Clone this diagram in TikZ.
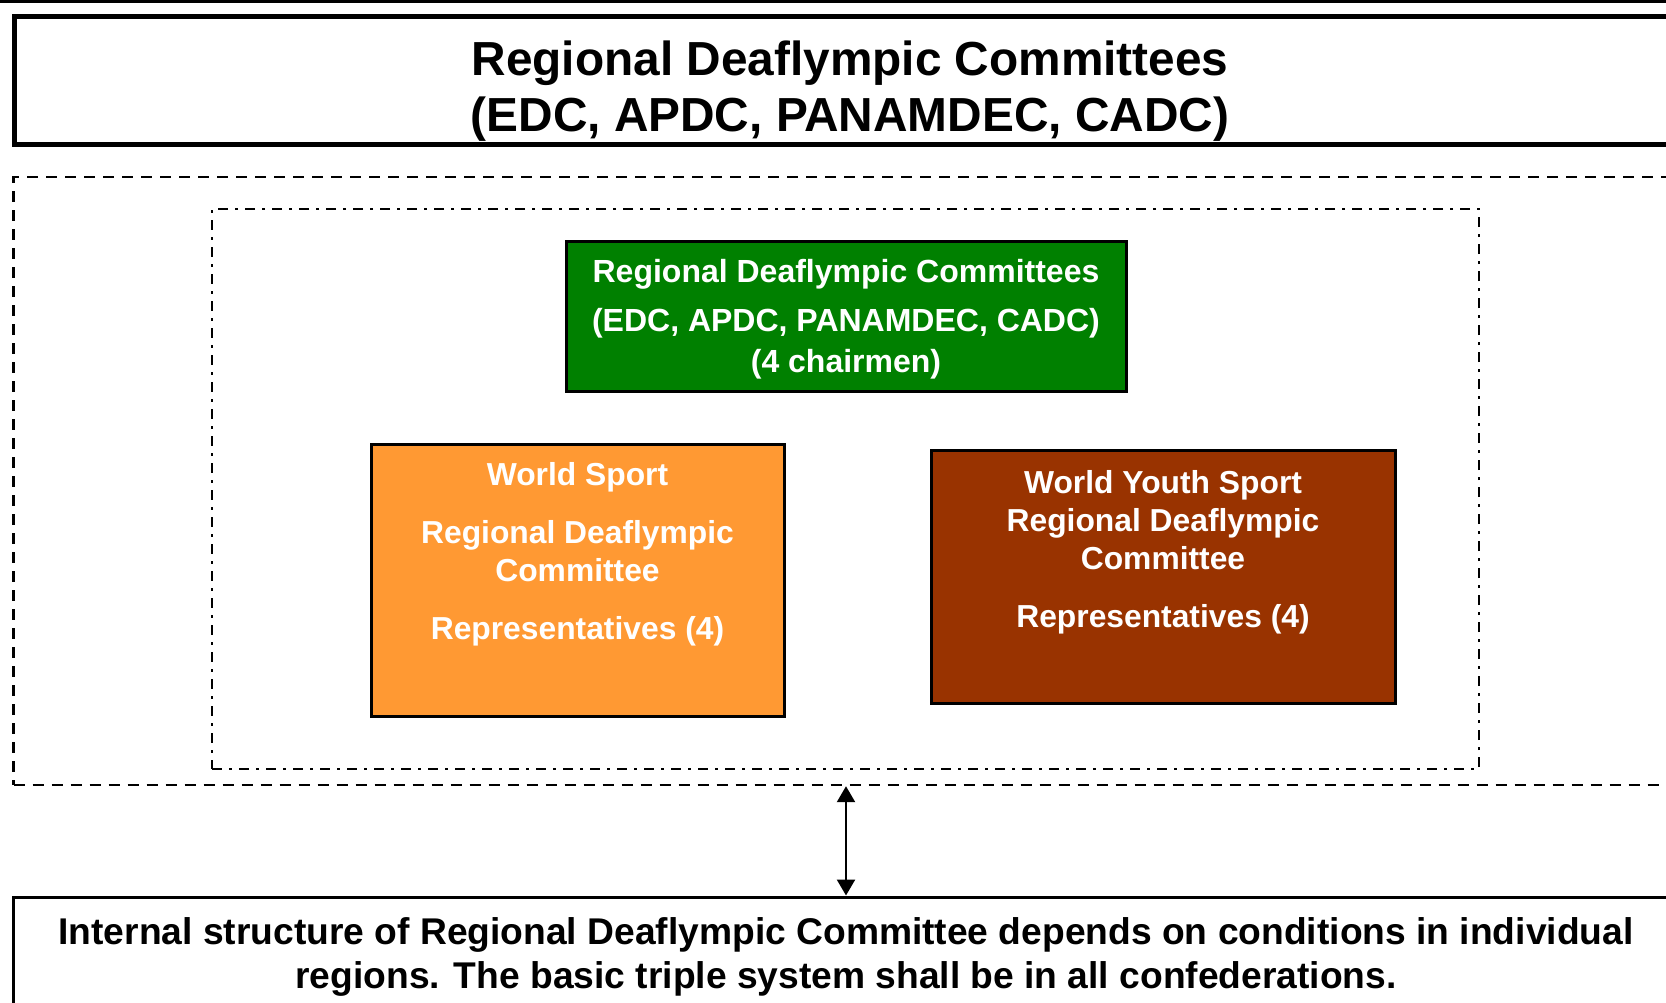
\documentclass[tikz,border=0pt]{standalone}
\usepackage{fontspec}
\setmainfont{Liberation Sans}
\usetikzlibrary{positioning,arrows.meta}
\usepackage{xcolor}
\definecolor{rdcgreen}{HTML}{008000}
\definecolor{wsorange}{HTML}{FF9933}
\definecolor{wysbrown}{HTML}{993300}

\begin{document}
\begin{tikzpicture}[x=0.5pt,y=-0.5pt,
		box/.style={draw,rectangle,inner sep=0pt,line width=1.5pt},
		boxtext/.style={text=white,align=center,inner sep=0pt,font=\bfseries\fontsize{15.9}{19}\selectfont},
		dashbox/.style={draw,rectangle,inner sep=0pt,line width=1.2pt,dash pattern=on 5.5pt off 4pt},
		dotbox/.style={draw,rectangle,inner sep=0pt,line width=1.2pt,dash pattern=on 5pt off 3.5pt on 1.5pt off 3.5pt}]
		\useasboundingbox (0,0) rectangle (1666,1002);
		\clip (0,0) rectangle (1666,1002);
		\draw[line width=1.5pt] (0,1.5) -- (1666,1.5);
		% title
		\node[box,line width=2.5pt,minimum width=835.5pt,minimum height=64pt,align=center,
			font=\bfseries\fontsize{23.9}{28}\selectfont] (title) at (850,80.5)
			{\rule{0pt}{27.5pt}Regional Deaflympic Committees\\(EDC, APDC, PANAMDEC, CADC)};
		% frames
		\node[dashbox,minimum width=832.5pt,minimum height=304pt] (region) at (846,481) {};
		\node[dotbox,minimum width=633.5pt,minimum height=280pt] (core) at (845.5,489) {};
		% committees
		\node[box,fill=rdcgreen,minimum width=280pt,minimum height=75pt,boxtext,
			font=\bfseries\fontsize{16}{19.5}\selectfont] (rdc) at (846,316)
			{\rule{0pt}{15pt}Regional Deaflympic Committees\\[5pt](EDC, APDC, PANAMDEC, CADC)\\[1pt](4 chairmen)};
		\node[box,fill=wsorange,minimum width=206.5pt,minimum height=136pt] (ws) at (577.5,580) {};
		\node[boxtext,below=10pt of ws.north] (wstext)
			{World Sport\\[10pt]Regional Deaflympic\\Committee\\[10pt]Representatives (4)};
		\node[box,fill=wysbrown,minimum width=232pt,minimum height=126.5pt] (wys) at (1163,576.5) {};
		\node[boxtext,below=11pt of wys.north] (wystext)
			{World Youth Sport\\Regional Deaflympic\\Committee\\[10pt]Representatives (4)};
		% note
		\node[box,minimum width=832.5pt,minimum height=56.5pt,align=center,
			font=\bfseries\fontsize{18.6}{22}\selectfont] (note) at (846,953.5)
			{\rule{0pt}{16.6pt}Internal structure of Regional Deaflympic Committee depends on conditions in individual\\
			regions. The basic triple system shall be in all confederations.};
		\draw[line width=1.2pt,{Triangle[length=8pt,width=9pt]}-{Triangle[length=8pt,width=9pt]}] (region.south) -- (note.north);
	\end{tikzpicture}
\end{document}
